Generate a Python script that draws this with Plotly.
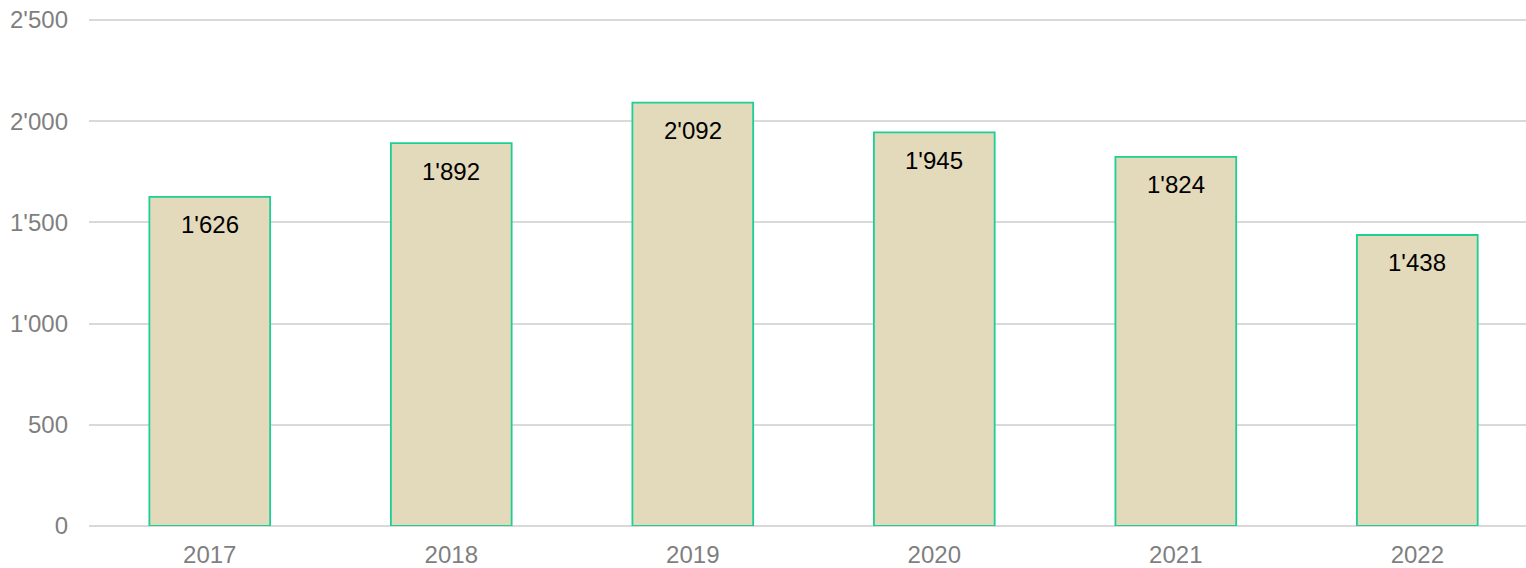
import plotly.graph_objects as go

years = ["2017", "2018", "2019", "2020", "2021", "2022"]
values = [1626, 1892, 2092, 1945, 1824, 1438]
y_ticks = [0, 500, 1000, 1500, 2000, 2500]

FONT = "Liberation Sans, Arial, sans-serif"

fig = go.Figure()
fig.add_trace(go.Bar(
    x=years, y=values, width=0.5,
    marker=dict(color="#e3d9bb", line=dict(color="#1ccf94", width=1.8)),
    hoverinfo="skip",
))
for i, v in enumerate(values):
    fig.add_annotation(x=i, y=v, xref="x", yref="y", yshift=-28, yanchor="middle",
                       text=f"{v:,}".replace(",", "'"), showarrow=False,
                       font=dict(family=FONT, size=24, color="#000000"))

fig.update_layout(
    width=1526, height=568,
    margin=dict(l=89, r=0, t=16, b=40),
    plot_bgcolor="white", paper_bgcolor="white",
    separators=".'",
    showlegend=False,
    font=dict(family=FONT, size=24, color="#7f7f7f"),
)
fig.update_xaxes(type="category", range=[-0.5, 5.45], showgrid=False, showline=False,
                 ticks="", tickfont=dict(family=FONT, size=24, color="#7f7f7f"),
                 ticklabelstandoff=12)
fig.update_yaxes(range=[0, 2520], tickvals=y_ticks, tickformat=",", showgrid=True,
                 gridcolor="#d9d9d9", gridwidth=1.5, zeroline=True, zerolinecolor="#d9d9d9",
                 zerolinewidth=1.5, showline=False, ticks="", ticklabelstandoff=20,
                 tickfont=dict(family=FONT, size=24, color="#7f7f7f"))

fig.write_html("out.html", config={"displayModeBar": False},
               post_script="document.body.style.margin='0';")
